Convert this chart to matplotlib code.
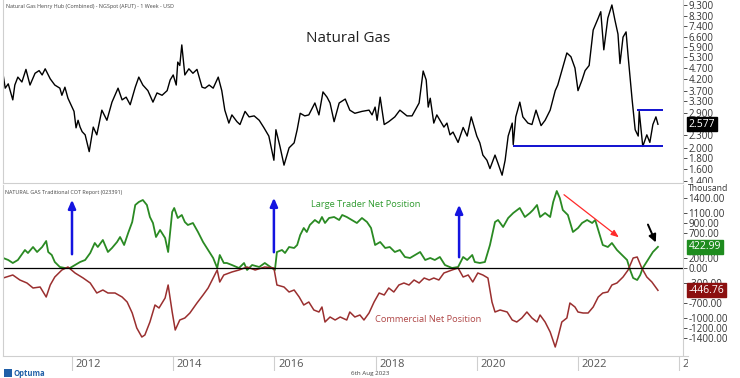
import matplotlib
matplotlib.use("Agg")
import matplotlib.pyplot as plt
from matplotlib.transforms import Bbox, TransformedBbox

plt.rcParams["font.family"] = ["Open Sans", "DejaVu Sans"]

# ---- data (decimal years) ----
price_t = [2010.64, 2010.68, 2010.74, 2010.83, 2010.87, 2010.93, 2011.01, 2011.09, 2011.17, 2011.27,
           2011.35, 2011.41, 2011.47, 2011.57, 2011.66, 2011.76, 2011.80, 2011.86, 2011.92, 2012.00,
           2012.04, 2012.08, 2012.12, 2012.16, 2012.20, 2012.26, 2012.34, 2012.42, 2012.49, 2012.59,
           2012.69, 2012.79, 2012.85, 2012.91, 2012.99, 2013.07, 2013.15, 2013.25, 2013.32, 2013.40,
           2013.50, 2013.60, 2013.68, 2013.78, 2013.88, 2013.94, 2014.00, 2014.06, 2014.09, 2014.13,
           2014.17, 2014.23, 2014.31, 2014.39, 2014.47, 2014.57, 2014.63, 2014.71, 2014.79, 2014.89,
           2014.96, 2015.02, 2015.10, 2015.16, 2015.26, 2015.32, 2015.42, 2015.50, 2015.60, 2015.70,
           2015.79, 2015.89, 2015.99, 2016.03, 2016.11, 2016.19, 2016.29, 2016.39, 2016.45, 2016.51,
           2016.60, 2016.68, 2016.80, 2016.88, 2016.96, 2017.04, 2017.10, 2017.18, 2017.28, 2017.40,
           2017.49, 2017.59, 2017.73, 2017.87, 2017.93, 2017.99, 2018.03, 2018.09, 2018.17, 2018.26,
           2018.38, 2018.48, 2018.62, 2018.72, 2018.86, 2018.94, 2019.00, 2019.04, 2019.08, 2019.15,
           2019.21, 2019.35, 2019.41, 2019.47, 2019.53, 2019.63, 2019.73, 2019.81, 2019.89, 2020.00,
           2020.06, 2020.12, 2020.20, 2020.26, 2020.36, 2020.42, 2020.50, 2020.56, 2020.62, 2020.70,
           2020.72, 2020.77, 2020.85, 2020.91, 2021.01, 2021.09, 2021.17, 2021.27, 2021.35, 2021.45,
           2021.55, 2021.60, 2021.68, 2021.78, 2021.86, 2021.94, 2022.00, 2022.08, 2022.14, 2022.22,
           2022.30, 2022.40, 2022.45, 2022.51, 2022.59, 2022.67, 2022.73, 2022.79, 2022.83, 2022.89,
           2022.95, 2022.99, 2023.07, 2023.13, 2023.19, 2023.21, 2023.28, 2023.36, 2023.42, 2023.48,
           2023.54, 2023.58]
price = [4.38, 3.80, 3.98, 3.35, 3.93, 4.28, 4.06, 4.65, 3.93, 4.46,
         4.59, 4.38, 4.68, 4.20, 3.93, 3.80, 3.52, 3.84, 3.41, 3.10,
         2.96, 2.48, 2.69, 2.50, 2.38, 2.30, 1.92, 2.50, 2.30, 3.00,
         2.69, 3.27, 3.52, 3.80, 3.35, 3.45, 3.18, 3.84, 4.28, 3.93,
         3.70, 3.27, 3.61, 3.52, 3.70, 4.15, 4.38, 3.93, 5.03, 4.85,
         6.05, 4.38, 4.68, 4.46, 4.65, 3.84, 3.80, 3.93, 3.80, 4.28,
         3.70, 3.00, 2.61, 2.85, 2.65, 2.57, 2.96, 2.79, 2.82, 2.69,
         2.49, 2.27, 1.75, 2.43, 2.03, 1.66, 2.00, 2.11, 2.43, 2.90,
         2.82, 2.85, 3.24, 2.85, 3.65, 3.45, 3.24, 2.65, 3.24, 3.38,
         3.00, 2.90, 2.96, 3.00, 2.85, 3.10, 2.69, 3.45, 2.57, 2.65,
         2.79, 3.00, 2.82, 2.82, 3.24, 4.57, 4.15, 3.10, 3.41, 2.61,
         2.85, 2.50, 2.61, 2.30, 2.37, 2.12, 2.49, 2.27, 2.79, 2.27,
         2.11, 1.85, 1.75, 1.60, 1.85, 1.69, 1.49, 1.75, 2.27, 2.61,
         2.07, 2.79, 3.27, 2.79, 2.61, 2.57, 3.00, 2.54, 2.69, 3.00,
         3.70, 3.93, 4.59, 5.55, 5.33, 4.72, 3.70, 4.15, 4.59, 4.85,
         7.10, 8.08, 8.65, 5.74, 8.08, 9.30, 7.90, 6.80, 4.95, 6.58,
         6.96, 5.38, 3.35, 2.43, 2.27, 2.96, 2.03, 2.30, 2.12, 2.57,
         2.79, 2.577]

large_t = [2010.64, 2010.74, 2010.83, 2010.93, 2011.07, 2011.13, 2011.23, 2011.31, 2011.41, 2011.49,
           2011.53, 2011.60, 2011.66, 2011.76, 2011.86, 2011.96, 2012.06, 2012.16, 2012.26, 2012.36,
           2012.45, 2012.51, 2012.61, 2012.71, 2012.79, 2012.89, 2012.95, 2013.03, 2013.11, 2013.19,
           2013.25, 2013.32, 2013.40, 2013.48, 2013.54, 2013.60, 2013.66, 2013.74, 2013.84, 2013.90,
           2013.98, 2014.02, 2014.09, 2014.17, 2014.23, 2014.29, 2014.39, 2014.49, 2014.59, 2014.69,
           2014.79, 2014.87, 2014.92, 2015.00, 2015.06, 2015.16, 2015.30, 2015.40, 2015.46, 2015.56,
           2015.70, 2015.81, 2015.95, 2016.01, 2016.05, 2016.15, 2016.21, 2016.29, 2016.39, 2016.45,
           2016.51, 2016.58, 2016.64, 2016.70, 2016.80, 2016.88, 2016.94, 2017.00, 2017.08, 2017.18,
           2017.28, 2017.34, 2017.43, 2017.53, 2017.63, 2017.73, 2017.83, 2017.91, 2017.99, 2018.09,
           2018.19, 2018.28, 2018.38, 2018.48, 2018.58, 2018.68, 2018.78, 2018.88, 2018.98, 2019.08,
           2019.17, 2019.27, 2019.37, 2019.51, 2019.63, 2019.73, 2019.81, 2019.91, 2019.96, 2020.06,
           2020.16, 2020.26, 2020.36, 2020.42, 2020.52, 2020.62, 2020.72, 2020.85, 2020.95, 2021.05,
           2021.11, 2021.19, 2021.25, 2021.35, 2021.45, 2021.51, 2021.58, 2021.64, 2021.70, 2021.80,
           2021.90, 2022.00, 2022.08, 2022.18, 2022.28, 2022.34, 2022.40, 2022.49, 2022.59, 2022.67,
           2022.77, 2022.87, 2022.97, 2023.03, 2023.09, 2023.17, 2023.23, 2023.28, 2023.38, 2023.48,
           2023.58]
large = [200, 160, 100, 160, 360, 300, 420, 320, 420, 540,
         320, 260, 120, 20, 0, 0, 60, 120, 160, 300,
         500, 420, 560, 320, 400, 520, 620, 460, 700, 920,
         1260, 1320, 1360, 1260, 1020, 900, 620, 760, 600, 320,
         1120, 1200, 1000, 1060, 920, 860, 900, 720, 520, 360,
         200, 0, 260, 100, 100, 60, 0, 100, -40, 60,
         20, 100, 0, -40, 320, 360, 300, 420, 400, 460,
         660, 800, 720, 860, 960, 900, 1020, 900, 1000, 1020,
         960, 1060, 1020, 960, 900, 1000, 920, 800, 460, 520,
         400, 420, 320, 360, 220, 200, 260, 320, 160, 200,
         160, 220, 60, 0, 20, 220, 160, 260, 120, 100,
         120, 460, 920, 960, 820, 1000, 1100, 1200, 1020, 1100,
         1160, 1260, 1020, 1100, 1020, 1320, 1540, 1400, 1160, 1060,
         720, 800, 900, 960, 900, 960, 760, 460, 420, 500,
         360, 260, 160, -40, -200, -240, -140, 0, 160, 320,
         422.99]

comm_t = [2010.64, 2010.83, 2010.97, 2011.11, 2011.23, 2011.37, 2011.49, 2011.57, 2011.66, 2011.80,
          2011.92, 2012.06, 2012.22, 2012.36, 2012.49, 2012.61, 2012.71, 2012.85, 2012.99, 2013.09,
          2013.19, 2013.28, 2013.38, 2013.44, 2013.54, 2013.64, 2013.72, 2013.84, 2013.90, 2013.98,
          2014.04, 2014.13, 2014.23, 2014.33, 2014.47, 2014.59, 2014.69, 2014.79, 2014.87, 2014.92,
          2015.00, 2015.16, 2015.30, 2015.46, 2015.62, 2015.81, 2015.99, 2016.05, 2016.19, 2016.29,
          2016.39, 2016.49, 2016.58, 2016.68, 2016.78, 2016.88, 2016.94, 2017.00, 2017.10, 2017.20,
          2017.30, 2017.43, 2017.49, 2017.59, 2017.69, 2017.77, 2017.87, 2017.97, 2018.07, 2018.17,
          2018.26, 2018.36, 2018.46, 2018.56, 2018.66, 2018.76, 2018.86, 2018.96, 2019.06, 2019.15,
          2019.25, 2019.35, 2019.51, 2019.63, 2019.73, 2019.83, 2019.92, 2020.02, 2020.12, 2020.22,
          2020.30, 2020.36, 2020.46, 2020.60, 2020.70, 2020.79, 2020.89, 2020.99, 2021.09, 2021.19,
          2021.25, 2021.35, 2021.45, 2021.55, 2021.60, 2021.68, 2021.78, 2021.84, 2021.94, 2022.00,
          2022.10, 2022.20, 2022.30, 2022.40, 2022.49, 2022.59, 2022.67, 2022.77, 2022.89, 2022.99,
          2023.09, 2023.17, 2023.26, 2023.36, 2023.46, 2023.58]
comm = [-200, -140, -240, -300, -400, -380, -580, -340, -180, -40,
        20, -100, -200, -300, -500, -440, -500, -500, -580, -680,
        -900, -1200, -1380, -1340, -1080, -740, -800, -600, -340, -880,
        -1240, -1040, -1000, -900, -700, -540, -400, -200, -40, -280,
        -140, -80, -40, 20, -40, 20, 0, -340, -380, -480,
        -440, -580, -740, -680, -840, -880, -780, -1080, -980, -1040,
        -980, -1040, -880, -980, -940, -1040, -900, -680, -500, -540,
        -400, -480, -340, -300, -340, -240, -300, -200, -240, -200,
        -240, -100, -40, 0, -180, -140, -280, -100, -140, -200,
        -680, -880, -840, -880, -1040, -1080, -1000, -880, -1000, -1080,
        -940, -1080, -1280, -1580, -1400, -1080, -1000, -700, -780, -880,
        -900, -900, -780, -580, -500, -480, -340, -300, -180, -40,
        200, 220, 0, -180, -280, -446.76]

price_ticks = [1.4, 1.6, 1.8, 2.0, 2.3, 2.9, 3.3, 3.7, 4.2, 4.7, 5.3, 5.9, 6.6, 7.4, 8.3, 9.3]
cot_ticks = [1400, 1100, 900, 700, 200, 0, -300, -700, -1000, -1200, -1400]
years = [2012, 2014, 2016, 2018, 2020, 2022, 2024]

support = 2.04
support_from = 2020.72
resist = 3.0
resist_from = 2023.17
lines_to = 2023.68

blue_arrows = [(2012.00, 220, 1420), (2015.99, 260, 1460), (2019.65, 160, 1320)]

# ---- layout (pixel boxes) ----
W, H = 740, 378
fig = plt.figure(figsize=(W / 100, H / 100), dpi=100)


def px_axes(x0, y0, x1, y1):
    return fig.add_axes([x0 / W, 1 - y1 / H, (x1 - x0) / W, (y1 - y0) / H])


def yr_at(px):
    return 2012 + (px - 72) / 50.6


x_lo, x_hi = yr_at(3), yr_at(683)
grey = "#cfcfcf"
lab_col = "#333333"

# top panel: price
ax1 = px_axes(3, 0, 683, 183)
ax1.plot(price_t, price, color="black", lw=1.0)
ax1.set_yscale("log")
ax1.set_ylim(1.37, 9.81)
ax1.set_xlim(x_lo, x_hi)
ax1.yaxis.tick_right()
ax1.set_yticks(price_ticks)
ax1.set_yticklabels(["%.3f" % v for v in price_ticks])
ax1.yaxis.set_minor_locator(matplotlib.ticker.NullLocator())
ax1.tick_params(axis="y", length=3, width=0.6, pad=1, labelsize=7, colors=lab_col)
ax1.set_xticks([])
ax1.spines["top"].set_visible(False)
for s in ["left", "right", "bottom"]:
    ax1.spines[s].set_color(grey)
    ax1.spines[s].set_linewidth(0.8)
# price scale labels are cut at the panel edge, as in the source
label_clip = TransformedBbox(Bbox([[0, 1 - 183 / H], [1, 1]]), fig.transFigure)
for tick in ax1.yaxis.get_major_ticks():
    tick.label2.set_clip_box(label_clip)
    tick.label2.set_clip_on(True)
ax1.hlines(support, support_from, lines_to, color="#1010d0", lw=1.4)
ax1.hlines(resist, resist_from, lines_to, color="#1010d0", lw=1.4)
ax1.text(0.507, 0.79, "Natural Gas", transform=ax1.transAxes, ha="center", va="center",
         fontsize=11, color="#222222")
ax1.text(0.004, 0.978, "Natural Gas Henry Hub (Combined) - NGSpot (AFUT) - 1 Week - USD",
         transform=ax1.transAxes, ha="left", va="top", fontsize=3.9, color="#444444")
ax1.annotate("%.3f" % price[-1], xy=(1, price[-1]), xycoords=("axes fraction", "data"),
             xytext=(4.2, 0), textcoords="offset points", va="center", ha="left",
             fontsize=7.5, color="white",
             bbox=dict(boxstyle="square,pad=0.15", fc="black", ec="black"))

# bottom panel: COT positions
ax2 = px_axes(3, 185, 683, 356)
ax2.plot(large_t, large, color="#2a8a23", lw=1.3)
ax2.plot(comm_t, comm, color="#9a2f2f", lw=1.1)
ax2.axhline(0, color="black", lw=0.9)
ax2.set_ylim(-1760, 1660)
ax2.set_xlim(x_lo, x_hi)
ax2.yaxis.tick_right()
ax2.set_yticks(cot_ticks)
ax2.set_yticklabels(["%.2f" % v for v in cot_ticks])
ax2.tick_params(axis="y", length=3, width=0.6, pad=1, labelsize=7, colors=lab_col)
ax2.set_xticks([])
for s in ["top", "bottom"]:
    ax2.spines[s].set_visible(False)
for s in ["left", "right"]:
    ax2.spines[s].set_color(grey)
    ax2.spines[s].set_linewidth(0.8)
fig.text(688 / W, 1 - 184 / H, "Thousand", ha="left", va="top", fontsize=6.2, color=lab_col)
ax2.text(0.003, 0.97, "NATURAL GAS Traditional COT Report (023391)",
         transform=ax2.transAxes, ha="left", va="top", fontsize=3.85, color="#444444")
for xa, y0, y1 in blue_arrows:
    ax2.annotate("", xy=(xa, y1), xytext=(xa, y0),
                 arrowprops=dict(arrowstyle="-|>,head_length=0.5,head_width=0.22",
                                 color="#1414e0", lw=1.8))
ax2.annotate("", xy=(2022.85, 580), xytext=(2021.68, 1500),
             arrowprops=dict(arrowstyle="-|>,head_length=0.45,head_width=0.18",
                             color="#ff2a2a", lw=0.9))
ax2.annotate("", xy=(2023.56, 460), xytext=(2023.36, 920),
             arrowprops=dict(arrowstyle="-|>,head_length=0.45,head_width=0.22",
                             color="black", lw=1.4))
ax2.text(2017.81, 1260, "Large Trader Net Position", ha="center", va="center",
         fontsize=6.7, color="#2f9a2f")
ax2.text(2019.04, -1040, "Commercial Net Position", ha="center", va="center",
         fontsize=6.7, color="#b04848")
ax2.annotate("%.2f" % large[-1], xy=(1, large[-1]), xycoords=("axes fraction", "data"),
             xytext=(4.2, 0), textcoords="offset points", va="center", ha="left",
             fontsize=7.5, color="white",
             bbox=dict(boxstyle="square,pad=0.15", fc="#1e8c1e", ec="#1e8c1e"))
ax2.annotate("%.2f" % comm[-1], xy=(1, comm[-1]), xycoords=("axes fraction", "data"),
             xytext=(4.2, 0), textcoords="offset points", va="center", ha="left",
             fontsize=7.5, color="white",
             bbox=dict(boxstyle="square,pad=0.15", fc="#8b1010", ec="#8b1010"))

# date band
ax3 = px_axes(3, 356, 688, 371)
ax3.set_xlim(x_lo, yr_at(688))
ax3.set_ylim(0, 1)
ax3.set_xticks([])
ax3.set_yticks([])
for s in ["left", "right", "bottom"]:
    ax3.spines[s].set_visible(False)
ax3.spines["top"].set_color(grey)
for yr in years:
    ax3.axvline(yr, color=grey, lw=0.8)
    ax3.text(yr + 0.07, 0.45, str(yr), ha="left", va="center", fontsize=8,
             color="#555555", clip_on=True)

fig.text(370 / W, 1 - 374 / H, "6th Aug 2023", ha="center", va="center",
         fontsize=4.5, color="#444444")
fig.text(14 / W, 1 - 373 / H, "Optuma", ha="left", va="center", fontsize=5.5,
         color="#1f5fa8", fontweight="bold")
fig.patches.append(matplotlib.patches.Rectangle((4 / W, 1 - 377 / H), 8 / W, 8 / H,
                                                transform=fig.transFigure, fc="#1f5fa8",
                                                ec="none"))

fig.savefig("out.png", dpi=100)
